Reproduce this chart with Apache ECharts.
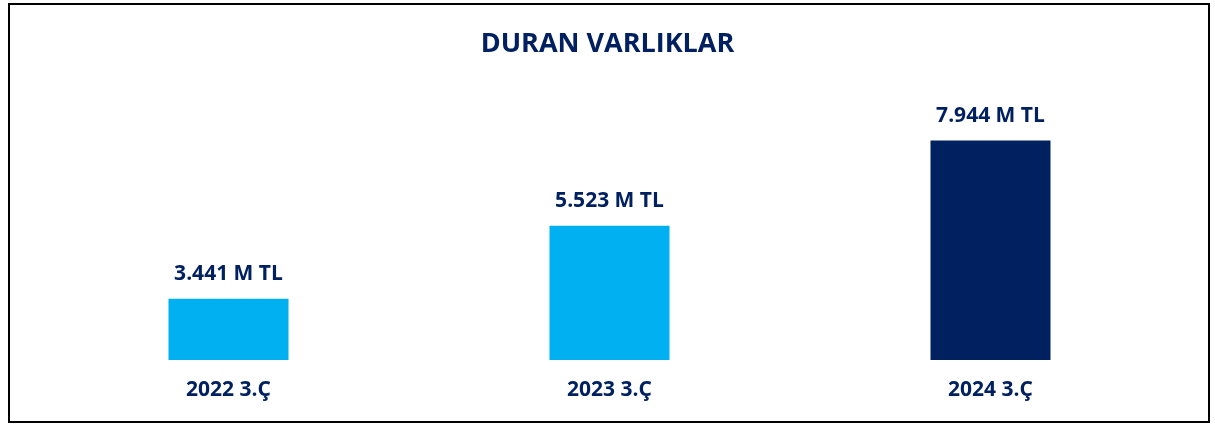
<!DOCTYPE html>
<html>
<head>
<meta charset="utf-8">
<script src="https://cdn.jsdelivr.net/npm/echarts@6/dist/echarts.min.js"></script>
<style>
  html, body { margin: 0; padding: 0; background: #fff; }
  #chart { width: 1215px; height: 424px; }
</style>
</head>
<body>
<div id="chart"></div>
<script>
// data
var categories = ['2022 3.Ç', '2023 3.Ç', '2024 3.Ç'];
var values = [3441, 5523, 7944];

var navy = '#002060';
var barColors = ['#00B0F0', '#00B0F0', '#002060'];
var font = '"Open Sans", "Noto Sans", sans-serif';

function fmt(v) {
  // Turkish thousands separator
  return String(v).replace(/\B(?=(\d{3})+(?!\d))/g, '.') + ' M TL';
}

var chartDom = document.getElementById('chart');
var myChart = echarts.init(chartDom, null, { renderer: 'canvas' });

var option = {
  animation: false,
  backgroundColor: '#fff',
  title: {
    text: 'DURAN VARLIKLAR',
    left: 'center',
    top: 26,
    textStyle: { color: navy, fontSize: 27, fontWeight: 'bold', fontFamily: font }
  },
  graphic: [{
    type: 'rect',
    shape: { x: 9, y: 4, width: 1200, height: 418 },
    style: { fill: 'none', stroke: '#000', lineWidth: 2 },
    silent: true
  }],
  grid: { left: 38, width: 1143, top: 100, bottom: 64 },
  xAxis: {
    type: 'category',
    data: categories,
    axisLine: { show: false },
    axisTick: { show: false },
    axisLabel: {
      margin: 20,
      color: navy,
      fontSize: 21,
      fontWeight: 'bold',
      fontFamily: font
    }
  },
  yAxis: {
    type: 'value',
    min: 1700,
    max: 9100,
    show: false,
    splitLine: { show: false }
  },
  series: [{
    type: 'bar',
    barWidth: 120,
    data: values.map(function (v, i) {
      return { value: v, itemStyle: { color: barColors[i] } };
    }),
    label: {
      show: true,
      position: 'top',
      distance: 14,
      color: navy,
      fontSize: 21,
      fontWeight: 'bold',
      fontFamily: font,
      formatter: function (p) { return fmt(p.value); }
    }
  }]
};

myChart.setOption(option);
</script>
</body>
</html>
